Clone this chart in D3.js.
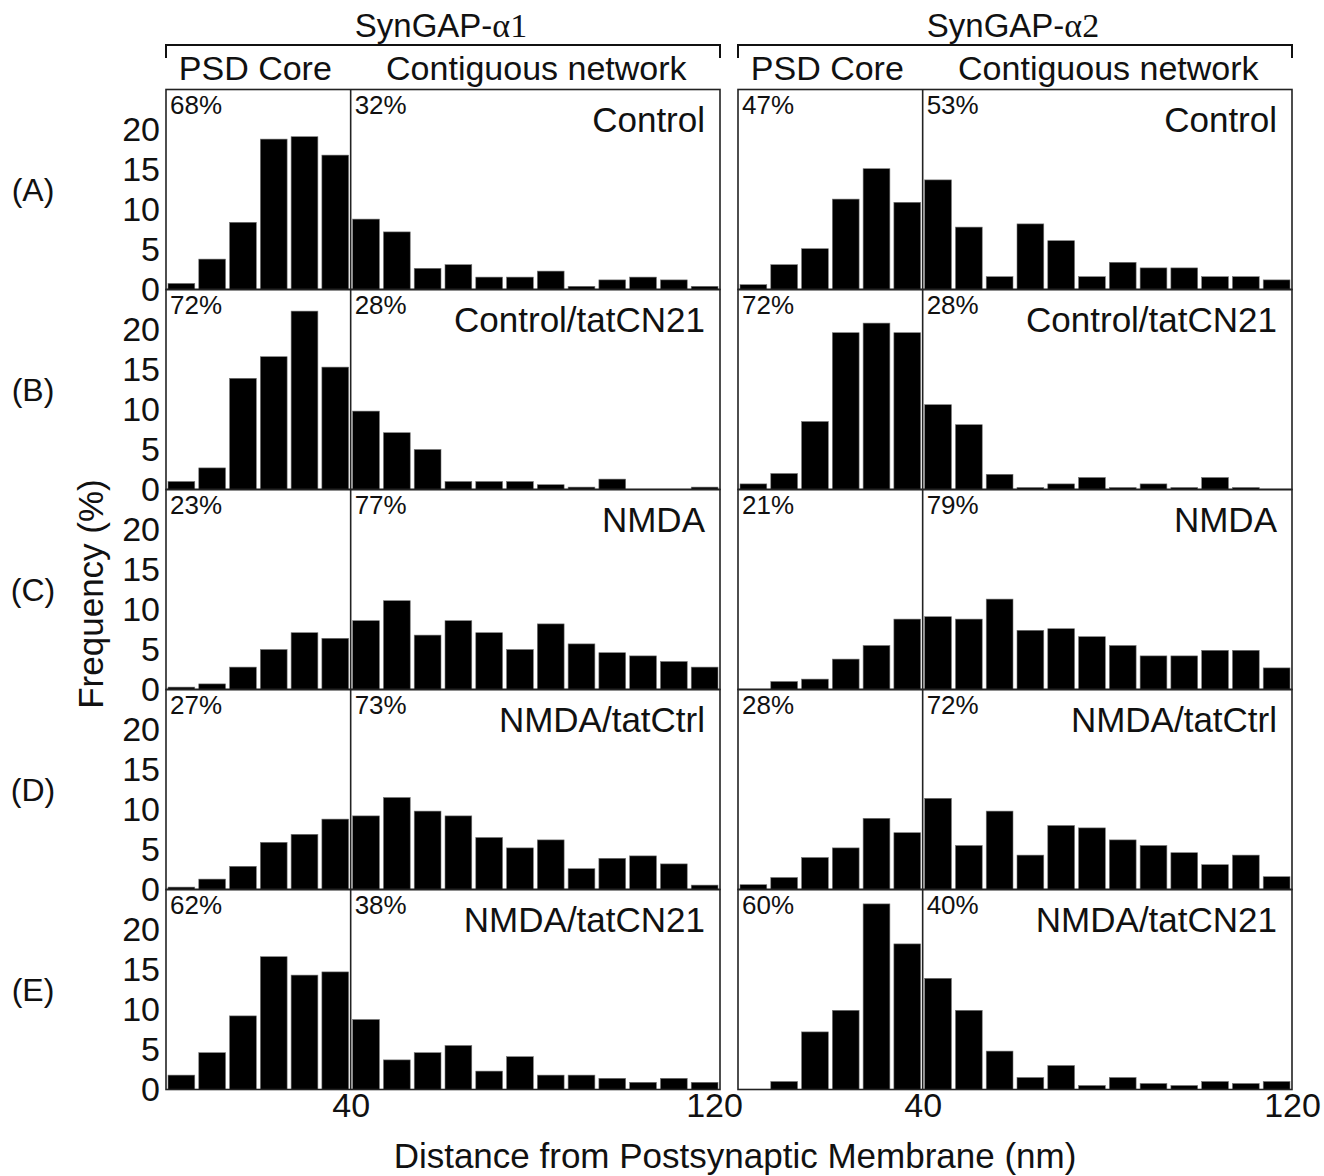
<!DOCTYPE html>
<html>
<head>
<meta charset="utf-8">
<script src="https://cdn.jsdelivr.net/npm/d3@7"></script>
<style>
  body { margin: 0; background: #fff; }
  svg  { display: block; font-family: "Liberation Sans", Arial, Helvetica, sans-serif; }
</style>
</head>
<body>
<svg id="fig" width="1324" height="1176"></svg>
<script>
/* SynGAP-a1 / a2 distance histograms, 5 conditions x 2 isoforms */

const conditions = ["Control", "Control/tatCN21", "NMDA", "NMDA/tatCtrl", "NMDA/tatCN21"];
const rowLabels  = ["(A)", "(B)", "(C)", "(D)", "(E)"];
const isoforms   = ["SynGAP-", "SynGAP-"];
const isoSuffix  = ["\u03b11", "\u03b12"];
const regionNames = ["PSD Core", "Contiguous network"];

// frequency (%) per 6.7 nm bin (18 bins, 0-120 nm), alpha1
const a1Control      = [0.76, 3.8, 8.4, 18.8, 19.1, 16.8, 8.8, 7.2, 2.65, 3.1, 1.55, 1.55, 2.3, 0.4, 1.2, 1.55, 1.2, 0.4];
const a1CtrlTatCN21  = [1.0, 2.7, 13.9, 16.6, 22.3, 15.3, 9.8, 7.1, 5.0, 1.0, 1.0, 1.0, 0.6, 0.3, 1.3, 0, 0, 0.3];
const a1NMDA         = [0.3, 0.7, 2.8, 5.0, 7.1, 6.4, 8.6, 11.1, 6.8, 8.6, 7.1, 5.0, 8.2, 5.7, 4.6, 4.2, 3.5, 2.8];
const a1NMDATatCtrl  = [0.3, 1.3, 2.9, 5.9, 6.9, 8.8, 9.2, 11.5, 9.8, 9.2, 6.5, 5.2, 6.2, 2.6, 3.9, 4.2, 3.2, 0.55];
const a1NMDATatCN21  = [1.8, 4.6, 9.2, 16.6, 14.3, 14.7, 8.75, 3.7, 4.6, 5.5, 2.3, 4.1, 1.8, 1.8, 1.4, 0.9, 1.4, 0.9];

// frequency (%) per bin, alpha2
const a2Control      = [0.6, 3.1, 5.1, 11.3, 15.1, 10.9, 13.7, 7.8, 1.6, 8.2, 6.1, 1.6, 3.4, 2.7, 2.7, 1.6, 1.6, 1.2];
const a2CtrlTatCN21  = [0.7, 2.0, 8.5, 19.6, 20.8, 19.6, 10.6, 8.1, 1.9, 0.25, 0.7, 1.5, 0.25, 0.7, 0.25, 1.5, 0.25, 0];
const a2NMDA         = [0, 1.0, 1.3, 3.8, 5.5, 8.8, 9.1, 8.8, 11.3, 7.4, 7.6, 6.6, 5.5, 4.2, 4.2, 4.9, 4.9, 2.7];
const a2NMDATatCtrl  = [0.6, 1.5, 4.0, 5.2, 8.9, 7.1, 11.4, 5.5, 9.8, 4.3, 8.0, 7.7, 6.2, 5.5, 4.6, 3.1, 4.3, 1.6];
const a2NMDATatCN21  = [0, 1.0, 7.2, 9.9, 23.2, 18.2, 13.9, 9.9, 4.8, 1.5, 3.0, 0.5, 1.5, 0.75, 0.5, 1.0, 0.75, 1.0];

// percent in PSD core / contiguous network
const a1Core = [68, 72, 23, 27, 62];
const a1Net  = [32, 28, 77, 73, 38];
const a2Core = [47, 72, 21, 28, 60];
const a2Net  = [53, 28, 79, 72, 40];

const yTicks = [0, 5, 10, 15, 20];
const xTicks = [40, 120];
const coreLimit = 40;
const nBins = 18;

const series = [
  [a1Control, a1CtrlTatCN21, a1NMDA, a1NMDATatCtrl, a1NMDATatCN21],
  [a2Control, a2CtrlTatCN21, a2NMDA, a2NMDATatCtrl, a2NMDATatCN21]
];
const corePct = [a1Core, a2Core];
const netPct  = [a1Net, a2Net];

/* -- layout ------------------------------------------------------------ */
const svg = d3.select("#fig");
const colX  = [166, 738];
const panW  = 554;
const top0  = 89.5;
const rowH  = 200;
const ink   = "#111";

const x = d3.scaleLinear().domain([0, 120]).range([0, panW]);
const y = d3.scaleLinear().domain([0, 25]).range([rowH, 0]);
const band = d3.scaleBand().domain(d3.range(nBins)).range([0, panW])
  .paddingInner(0.13).paddingOuter(0.065);

series.forEach((col, c) => {
  const gCol = svg.append("g").attr("transform", `translate(${colX[c]},0)`);

  // column header
  gCol.append("text")
    .attr("x", panW / 2 - 2).attr("y", 37)
    .attr("text-anchor", "middle").attr("font-size", 33).attr("fill", ink)
    .call(t => {
      t.append("tspan").text(isoforms[c]);
      t.append("tspan").attr("font-family", "'Liberation Serif', 'Times New Roman', serif")
        .attr("font-size", 34).text(isoSuffix[c]);
    });

  gCol.append("path")
    .attr("d", `M0,58V45H${panW}V58`)
    .attr("fill", "none").attr("stroke", ink).attr("stroke-width", 2);

  gCol.append("text")
    .attr("x", x(coreLimit / 2) - 3).attr("y", 80)
    .attr("text-anchor", "middle").attr("font-size", 34).attr("fill", ink)
    .text(regionNames[0]);
  gCol.append("text")
    .attr("x", x((coreLimit + 120) / 2) + 1).attr("y", 80)
    .attr("text-anchor", "middle").attr("font-size", 34).attr("fill", ink)
    .text(regionNames[1]);

  col.forEach((vals, r) => {
    const g = gCol.append("g").attr("transform", `translate(0,${top0 + r * rowH})`);

    g.selectAll("rect.bar")
      .data(vals)
      .join("rect")
        .attr("class", "bar")
        .attr("x", (d, i) => band(i))
        .attr("width", band.bandwidth())
        .attr("y", d => y(d))
        .attr("height", d => rowH - y(d))
        .attr("fill", "#000")
        .attr("stroke", "#777").attr("stroke-width", 0.6);

    // frame + 40 nm divider
    g.append("rect")
      .attr("width", panW).attr("height", rowH)
      .attr("fill", "none").attr("stroke", "#222").attr("stroke-width", 1.6);
    g.append("line")
      .attr("x1", x(coreLimit)).attr("x2", x(coreLimit))
      .attr("y1", 0).attr("y2", rowH)
      .attr("stroke", "#222").attr("stroke-width", 1.6);

    g.append("text")
      .attr("x", 4).attr("y", 24)
      .attr("font-size", 26).attr("fill", ink)
      .text(corePct[c][r] + "%");
    g.append("text")
      .attr("x", x(coreLimit) + 4).attr("y", 24)
      .attr("font-size", 26).attr("fill", ink)
      .text(netPct[c][r] + "%");

    g.append("text")
      .attr("x", panW - 15).attr("y", 42)
      .attr("text-anchor", "end").attr("font-size", 35).attr("fill", ink)
      .text(conditions[r]);

    if (c === 0) {
      const ax = g.append("g")
        .call(d3.axisLeft(y).tickValues(yTicks).tickSize(0).tickPadding(6));
      ax.select(".domain").remove();
      ax.selectAll("text")
        .attr("font-size", 34).attr("fill", ink)
        .attr("font-family", "'Liberation Sans', Arial, sans-serif");

      svg.append("text")
        .attr("x", 33).attr("y", top0 + r * rowH + rowH / 2)
        .attr("dy", "0.35em")
        .attr("text-anchor", "middle").attr("font-size", 32).attr("fill", ink)
        .text(rowLabels[r]);
    }
  });

  const xAx = gCol.append("g")
    .attr("transform", `translate(0,${top0 + 5 * rowH})`)
    .call(d3.axisBottom(x).tickValues(xTicks).tickSize(0).tickPadding(3));
  xAx.select(".domain").remove();
  xAx.selectAll("text")
    .attr("font-size", 34).attr("fill", ink)
    .attr("font-family", "'Liberation Sans', Arial, sans-serif");
  if (c === 0) xAx.selectAll("text").filter(d => d === 120).attr("dx", -6);
});

svg.append("text")
  .attr("transform", "translate(103,594) rotate(-90)")
  .attr("text-anchor", "middle").attr("font-size", 35).attr("fill", ink)
  .text("Frequency (%)");

svg.append("text")
  .attr("x", 735).attr("y", 1168)
  .attr("text-anchor", "middle").attr("font-size", 35).attr("fill", ink)
  .text("Distance from Postsynaptic Membrane (nm)");
</script>
</body>
</html>
